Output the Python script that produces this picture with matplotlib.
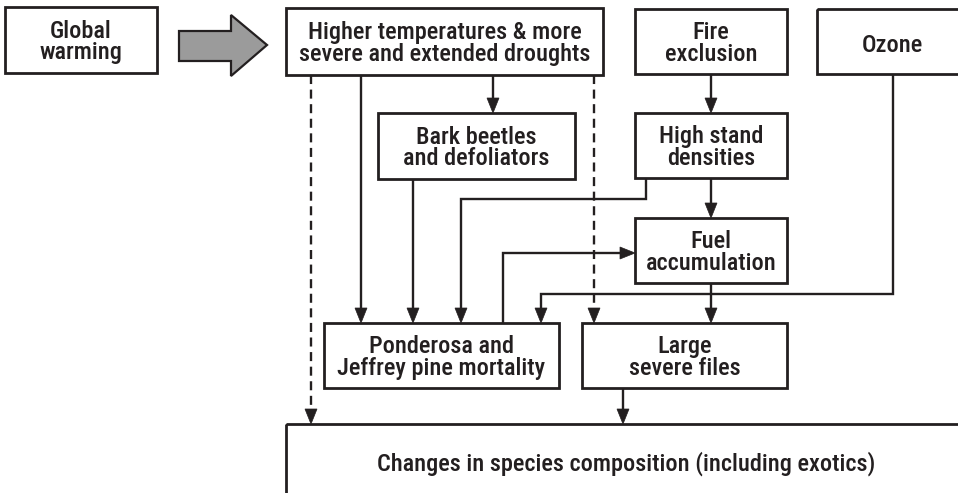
import matplotlib
matplotlib.use("Agg")
import matplotlib.pyplot as plt
from matplotlib.patches import Rectangle, Polygon

plt.rcParams['lines.scale_dashes'] = False
FONT = ['Roboto Condensed', 'DejaVu Sans']

# ---- content ----
box_names = ["warming", "drought", "fire", "ozone", "beetles", "density",
             "fuel", "mortality", "fires", "composition"]
box_labels = ["Global\nwarming",
              "Higher temperatures & more\nsevere and extended droughts",
              "Fire\nexclusion",
              "Ozone",
              "Bark beetles\nand defoliators",
              "High stand\ndensities",
              "Fuel\naccumulation",
              "Ponderosa and\nJeffrey pine mortality",
              "Large\nsevere files",
              "Changes in species composition (including exotics)"]

# ---- layout (pixel coordinates, y downward): left, top, right, bottom ----
layout = {
    "warming":     (5, 7, 157, 73),
    "drought":     (286, 8, 603, 75),
    "fire":        (635, 9, 787, 74),
    "ozone":       (817, 9, 968, 74),
    "beetles":     (378, 113, 575, 179),
    "density":     (635, 113, 787, 178),
    "fuel":        (635, 218, 787, 283),
    "mortality":   (324, 323, 559, 388),
    "fires":       (582, 323, 787, 388),
    "composition": (286, 424, 966, 503),
}
text_center = {"ozone": (892, 46), "composition": (626, 464)}

# connectors: (points, dashed)
connectors = [
    ([(493, 75), (493, 113)], False),
    ([(361, 75), (361, 323)], False),
    ([(311, 75), (311, 424)], True),
    ([(594, 75), (594, 323)], True),
    ([(413, 179), (413, 323)], False),
    ([(646, 178), (646, 199), (461, 199), (461, 323)], False),
    ([(711, 74), (711, 113)], False),
    ([(711, 178), (711, 218)], False),
    ([(503, 323), (503, 253), (635, 253)], False),
    ([(893, 74), (893, 294), (541, 294), (541, 323)], False),
    ([(711, 283), (711, 323)], False),
    ([(623, 388), (623, 424)], False),
]

INK = '#231f20'
W, H = 958, 493
fig = plt.figure(figsize=(W / 100, H / 100), dpi=100)
ax = fig.add_axes([0, 0, 1, 1])
ax.set_xlim(0, W)
ax.set_ylim(H, 0)
ax.axis('off')

for name, label in zip(box_names, box_labels):
    l, t, r, b = layout[name]
    ax.add_patch(Rectangle((l, t), r - l, b - t, fill=False, ec=INK, lw=2.0,
                           zorder=3))
    cx, cy = text_center.get(name, ((l + r) / 2, (t + b) / 2 + 2))
    ax.text(cx, cy, label, ha='center', va='center', fontsize=17.5,
            family=FONT, weight='medium', color=INK, linespacing=0.9,
            zorder=4)

HL, HW = 15, 6  # arrow head length and half width in px
for pts, dashed in connectors:
    xs = [p[0] for p in pts]
    ys = [p[1] for p in pts]
    (x0, y0), (x1, y1) = pts[-2], pts[-1]
    dx, dy = x1 - x0, y1 - y0
    n = (dx ** 2 + dy ** 2) ** 0.5
    ux, uy = dx / n, dy / n
    xs[-1] = x1 - ux * HL * 0.5
    ys[-1] = y1 - uy * HL * 0.5
    ls = (0, (6.5, 4.0)) if dashed else '-'
    ax.plot(xs, ys, color=INK, lw=1.7, ls=ls, solid_joinstyle='miter',
            solid_capstyle='butt', dash_capstyle='butt', zorder=2)
    bx, by = x1 - ux * HL, y1 - uy * HL
    head = [(x1, y1), (bx - uy * HW, by + ux * HW), (bx + uy * HW, by - ux * HW)]
    ax.add_patch(Polygon(head, closed=True, fc=INK, ec=INK, lw=0.5, zorder=3))

# big gray arrow from Global warming to droughts
big_arrow = [(179, 31), (231, 31), (231, 15), (267, 45), (231, 76),
             (231, 61), (179, 61)]
ax.add_patch(Polygon(big_arrow, closed=True, fc='#9b9b9b', ec=INK, lw=1.6,
                     joinstyle='miter', zorder=3))

fig.savefig('out.png', dpi=100, facecolor='white')
